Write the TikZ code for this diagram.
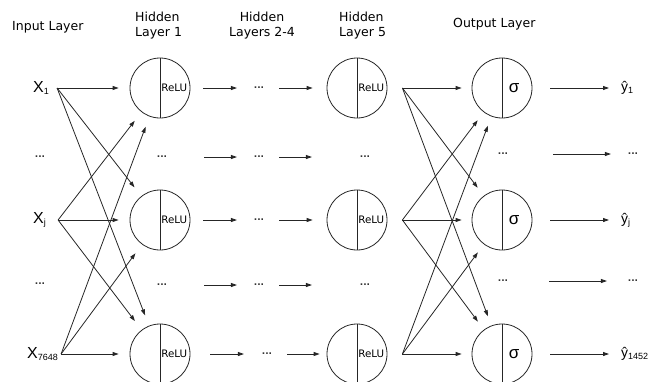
\documentclass[tikz,border=0pt]{standalone}
\usepackage{fontspec}
\setmainfont{DejaVu Sans}
\newfontfamily\arialf{Liberation Sans}
\usetikzlibrary{arrows.meta}
\newcommand{\mysub}[1]{\raisebox{-2pt}{\fontsize{9}{9}\selectfont #1}}
\begin{document}
\begin{tikzpicture}[x=1pt,y=-1pt,
  arr/.style={-{Triangle[length=6pt,width=4pt]}, line width=0.8pt, draw=black!85},
  neuron/.style={circle, draw=black!85, line width=0.8pt, minimum size=60pt, inner sep=0pt},
  divider/.style={line width=0.8pt, draw=black!85},
  head/.style={font=\fontsize{12.5}{14.5}\selectfont, inner sep=0pt},
  act/.style={font=\fontsize{10.3}{12}\selectfont, inner sep=0pt, anchor=west},
  sig/.style={font=\arialf\fontsize{17}{17}\selectfont, inner sep=0pt},
  dots/.style={font=\bfseries\fontsize{9}{9}\selectfont, inner sep=0pt, text=black!80},
  xlab/.style={font=\arialf\fontsize{16}{16}\selectfont, inner sep=0pt, anchor=west},
  ylab/.style={font=\arialf\fontsize{14}{14}\selectfont, inner sep=0pt, anchor=west},
]
\useasboundingbox (0,0) rectangle (672,381);

% headers
\node[head, anchor=base west] (hin) at (12,30) {Input Layer};
\node[head, align=left, anchor=north west] (hh1) at (135,12) {Hidden\\Layer 1};
\node[head, align=center, anchor=north] (hh2) at (262,12) {Hidden\\Layers 2-4};
\node[head, align=left, anchor=north west] (hh5) at (339,12) {Hidden\\Layer 5};
\node[head, anchor=base west] (hout) at (453,27) {Output Layer};

% inputs
\node[xlab] (in1) at (33,88) {X\mysub{1}};
\node[dots] (inD1) at (40,157) {...};
\node[xlab] (inJ) at (33,220) {X\mysub{j}};
\node[dots] (inD2) at (40,284) {...};
\node[xlab] (inL) at (27,354) {X\mysub{7648}};

% hidden layer 1
\foreach \n/\y in {a1/88, aJ/220, aL/354} {
  \node[neuron] (\n) at (160,\y) {};
  \draw[divider] (\n.north) -- (\n.south);
  \node[act] (\n-t) at ([xshift=1.2pt]\n.center) {ReLU};
}
\node[dots] (aD1) at (162,157) {...};
\node[dots] (aD2) at (162,285) {...};

% hidden layers 2-4
\node[dots] (m1) at (259,88) {...};
\node[dots] (mD1) at (259,157) {...};
\node[dots] (mJ) at (259,220) {...};
\node[dots] (mD2) at (259,285) {...};
\node[dots] (mL) at (267,354) {...};

% hidden layer 5
\foreach \n/\y in {b1/88, bJ/220, bL/354} {
  \node[neuron] (\n) at (357,\y) {};
  \draw[divider] (\n.north) -- (\n.south);
  \node[act] (\n-t) at ([xshift=1.2pt]\n.center) {ReLU};
}
\node[dots] (bD1) at (365,157) {...};
\node[dots] (bD2) at (365,285) {...};

% output layer
\foreach \n/\y in {o1/88, oJ/220, oL/354} {
  \node[neuron] (\n) at (502,\y) {};
  \draw[divider] (\n.north) -- (\n.south);
  \node[sig] (\n-t) at (514,\y) {σ};
}
\node[dots] (oD1) at (503,154) {...};
\node[dots] (oD2) at (503,281) {...};

% outputs
\node[ylab] (y1) at (621,88) {ŷ\mysub{1}};
\node[dots] (yD1) at (633,154) {...};
\node[ylab] (yJ) at (621,220) {ŷ\mysub{j}};
\node[dots] (yD2) at (633,281) {...};
\node[ylab] (yL) at (621,354) {ŷ\mysub{1452}};

% input -> hidden 1
\foreach \s/\dx in {in1/8, inJ/12, inL/3}
  \foreach \t in {a1,aJ,aL}
    \draw[arr, shorten >=11pt] ([xshift=\dx pt]\s.east) -- (\t);

% hidden 1 -> 2-4 -> 5
\draw[arr, shorten <=13pt, shorten >=16.7pt] (a1) -- (m1);
\draw[arr, shorten <=14.7pt, shorten >=14pt] (m1) -- (b1);
\draw[arr, shorten <=13pt, shorten >=16.7pt] (aJ) -- (mJ);
\draw[arr, shorten <=14.7pt, shorten >=14pt] (mJ) -- (bJ);
\draw[arr, shorten <=36.7pt, shorten >=16.7pt] (aD1) -- (mD1);
\draw[arr, shorten <=14.7pt, shorten >=47.7pt] (mD1) -- (bD1);
\draw[arr, shorten <=36.7pt, shorten >=16.7pt] (aD2) -- (mD2);
\draw[arr, shorten <=14.7pt, shorten >=47.7pt] (mD2) -- (bD2);
\draw[arr, shorten <=20pt, shorten >=17.7pt] (aL) -- (mL);
\draw[arr, shorten <=14.7pt, shorten >=7pt] (mL) -- (bL);

% hidden 5 -> output
\foreach \s in {b1,bJ,bL}
  \foreach \t in {o1,oJ,oL}
    \draw[arr, shorten >=10pt] ([xshift=15pt]\s.east) -- (\t);

% output -> labels
\draw[arr, shorten <=18pt, shorten >=12pt] (o1) -- (y1);
\draw[arr, shorten <=18pt, shorten >=12pt] (oJ) -- (yJ);
\draw[arr, shorten <=18pt, shorten >=12pt] (oL) -- (yL);
\draw[arr, shorten <=44.7pt, shorten >=16.7pt] (oD1) -- (yD1);
\draw[arr, shorten <=40.7pt, shorten >=20.7pt] (oD2) -- (yD2);
\end{tikzpicture}
\end{document}
